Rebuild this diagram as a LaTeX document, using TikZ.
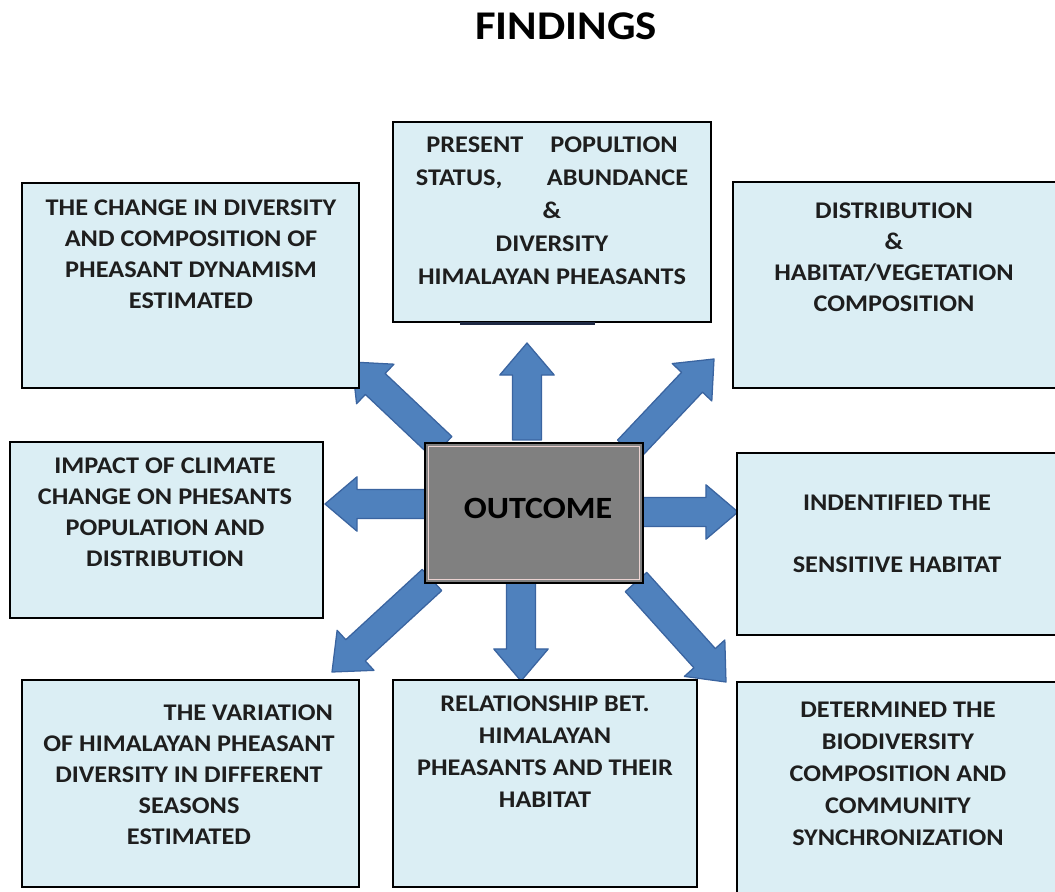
\documentclass[tikz,border=0pt]{standalone}
\usepackage{fontspec}
\setmainfont[FakeStretch=1.1]{Carlito}
\usetikzlibrary{calc}
\definecolor{boxfill}{HTML}{DBEEF4}
\definecolor{arrfill}{HTML}{4F81BD}
\definecolor{arrdraw}{HTML}{3A64A0}
\definecolor{outfill}{HTML}{808080}
\definecolor{pinkline}{HTML}{EBD2D0}
\definecolor{txt}{HTML}{1E1E1E}
\definecolor{navyline}{HTML}{1F2A44}
\newcommand{\blockarr}[2]{%
  \coordinate (#1-h) at ($(#2)!0.8cm!(#1)$);
  \fill[arrfill, draw=arrdraw, line width=0.9pt, line join=round]
    ($(#1)!0.36cm!90:(#2)$) -- ($(#1-h)!0.36cm!90:(#2)$) -- ($(#1-h)!0.68cm!90:(#2)$)
    -- (#2) -- ($(#1-h)!0.68cm!-90:(#2)$) -- ($(#1-h)!0.36cm!-90:(#2)$)
    -- ($(#1)!0.36cm!-90:(#2)$) -- cycle;}
\tikzset{
  boxstyle/.style={draw=black, line width=1.6pt, fill=boxfill, inner sep=0pt, outer sep=0pt},
  boxtext/.style={align=center, text=txt, inner sep=0pt, font={\fontsize{17}{22}\selectfont\bfseries}},
}
\begin{document}
\begin{tikzpicture}[x=0.025cm, y=-0.025cm]
\useasboundingbox (0,0) rectangle (1055,892);
\fill[white] (0,0) rectangle (1055,892);

% title
\node[font={\fontsize{29}{34}\selectfont\bfseries}, text=black] (title) at (566,26) {FINDINGS};

% arrow end points
\coordinate (uS) at (527,440);  \coordinate (uE) at (527,343);
\coordinate (dS) at (521,578);  \coordinate (dE) at (521,681);
\coordinate (lS) at (430,504);  \coordinate (lE) at (325,504);
\coordinate (rS) at (638,512);  \coordinate (rE) at (738,512);
\coordinate (ulS) at (442,447); \coordinate (ulE) at (352,362);
\coordinate (urS) at (628,450); \coordinate (urE) at (714,359);
\coordinate (dlS) at (432,580); \coordinate (dlE) at (332,672);
\coordinate (drS) at (636,582); \coordinate (drE) at (726,682);

\blockarr{uS}{uE}
\blockarr{dS}{dE}
\blockarr{lS}{lE}
\blockarr{rS}{rE}
\blockarr{ulS}{ulE}
\blockarr{urS}{urE}
\blockarr{dlS}{dlE}
\blockarr{drS}{drE}

% boxes
\node[boxstyle, minimum width=8.425cm, minimum height=5.125cm] (b1) at (190.5,285.5) {};
\node[boxstyle, minimum width=7.95cm,  minimum height=5.0cm]   (b2) at (552,222) {};
\node[boxstyle, minimum width=8.175cm, minimum height=5.15cm]  (b3) at (896.5,285) {};
\node[boxstyle, minimum width=7.825cm, minimum height=4.4cm]   (b4) at (166.5,530) {};
\node[boxstyle, minimum width=8.075cm, minimum height=4.55cm]  (b6) at (898.5,544) {};
\node[boxstyle, minimum width=8.425cm, minimum height=5.175cm] (b7) at (190.5,783.5) {};
\node[boxstyle, minimum width=7.6cm,   minimum height=5.175cm] (b8) at (545,783.5) {};
\node[boxstyle, minimum width=8.075cm, minimum height=5.45cm]  (b9) at (898.5,791) {};

\draw[navyline, line width=2pt] ($(b2.south)+(-2.3cm,-0.04cm)$) coordinate (sl1) -- ($(b2.south)+(1.08cm,-0.04cm)$) coordinate (sl2);

% centre box
\node[draw=black, line width=1.6pt, fill=outfill, inner sep=0pt, outer sep=0pt,
      minimum width=5.45cm, minimum height=3.5cm] (b5) at (534,513) {};
\draw[pinkline, line width=0.7pt] ($(b5.south west)+(0.09cm,0.09cm)$) rectangle ($(b5.north east)-(0.09cm,0.09cm)$);
\node[font={\fontsize{22}{26}\selectfont\bfseries}, text=black] (tout) at (538,508) {OUTCOME};

% texts
\node[boxtext] (t1) at (191,254) {THE CHANGE IN DIVERSITY\\AND COMPOSITION OF\\PHEASANT DYNAMISM\\ESTIMATED};
\node[boxtext, font={\fontsize{17}{23.4}\selectfont\bfseries}] (t2) at (552,211)
  {\makebox[6.28cm]{PRESENT\hfill POPULTION}\\\makebox[6.8cm]{STATUS,\hfill ABUNDANCE}\\\&\\DIVERSITY\\HIMALAYAN PHEASANTS};
\node[boxtext] (t3) at (894,257) {DISTRIBUTION\\\&\\HABITAT/VEGETATION\\COMPOSITION};
\node[boxtext] (t4) at (165,512) {IMPACT OF CLIMATE\\CHANGE ON PHESANTS\\POPULATION AND\\DISTRIBUTION};
\node[boxtext] (t6) at (897,534) {INDENTIFIED THE\\[22pt]SENSITIVE HABITAT};
\node[boxtext] (t7) at (189,775) {\makebox[7.2cm][r]{THE VARIATION}\\OF HIMALAYAN PHEASANT\\DIVERSITY IN DIFFERENT\\SEASONS\\ESTIMATED};
\node[boxtext, font={\fontsize{17}{22.7}\selectfont\bfseries}] (t8) at (545,752) {RELATIONSHIP BET.\\HIMALAYAN\\PHEASANTS AND THEIR\\HABITAT};
\node[boxtext, font={\fontsize{17}{22.7}\selectfont\bfseries}] (t9) at (898,774) {DETERMINED THE\\BIODIVERSITY\\COMPOSITION AND\\COMMUNITY\\SYNCHRONIZATION};
\end{tikzpicture}
\end{document}
